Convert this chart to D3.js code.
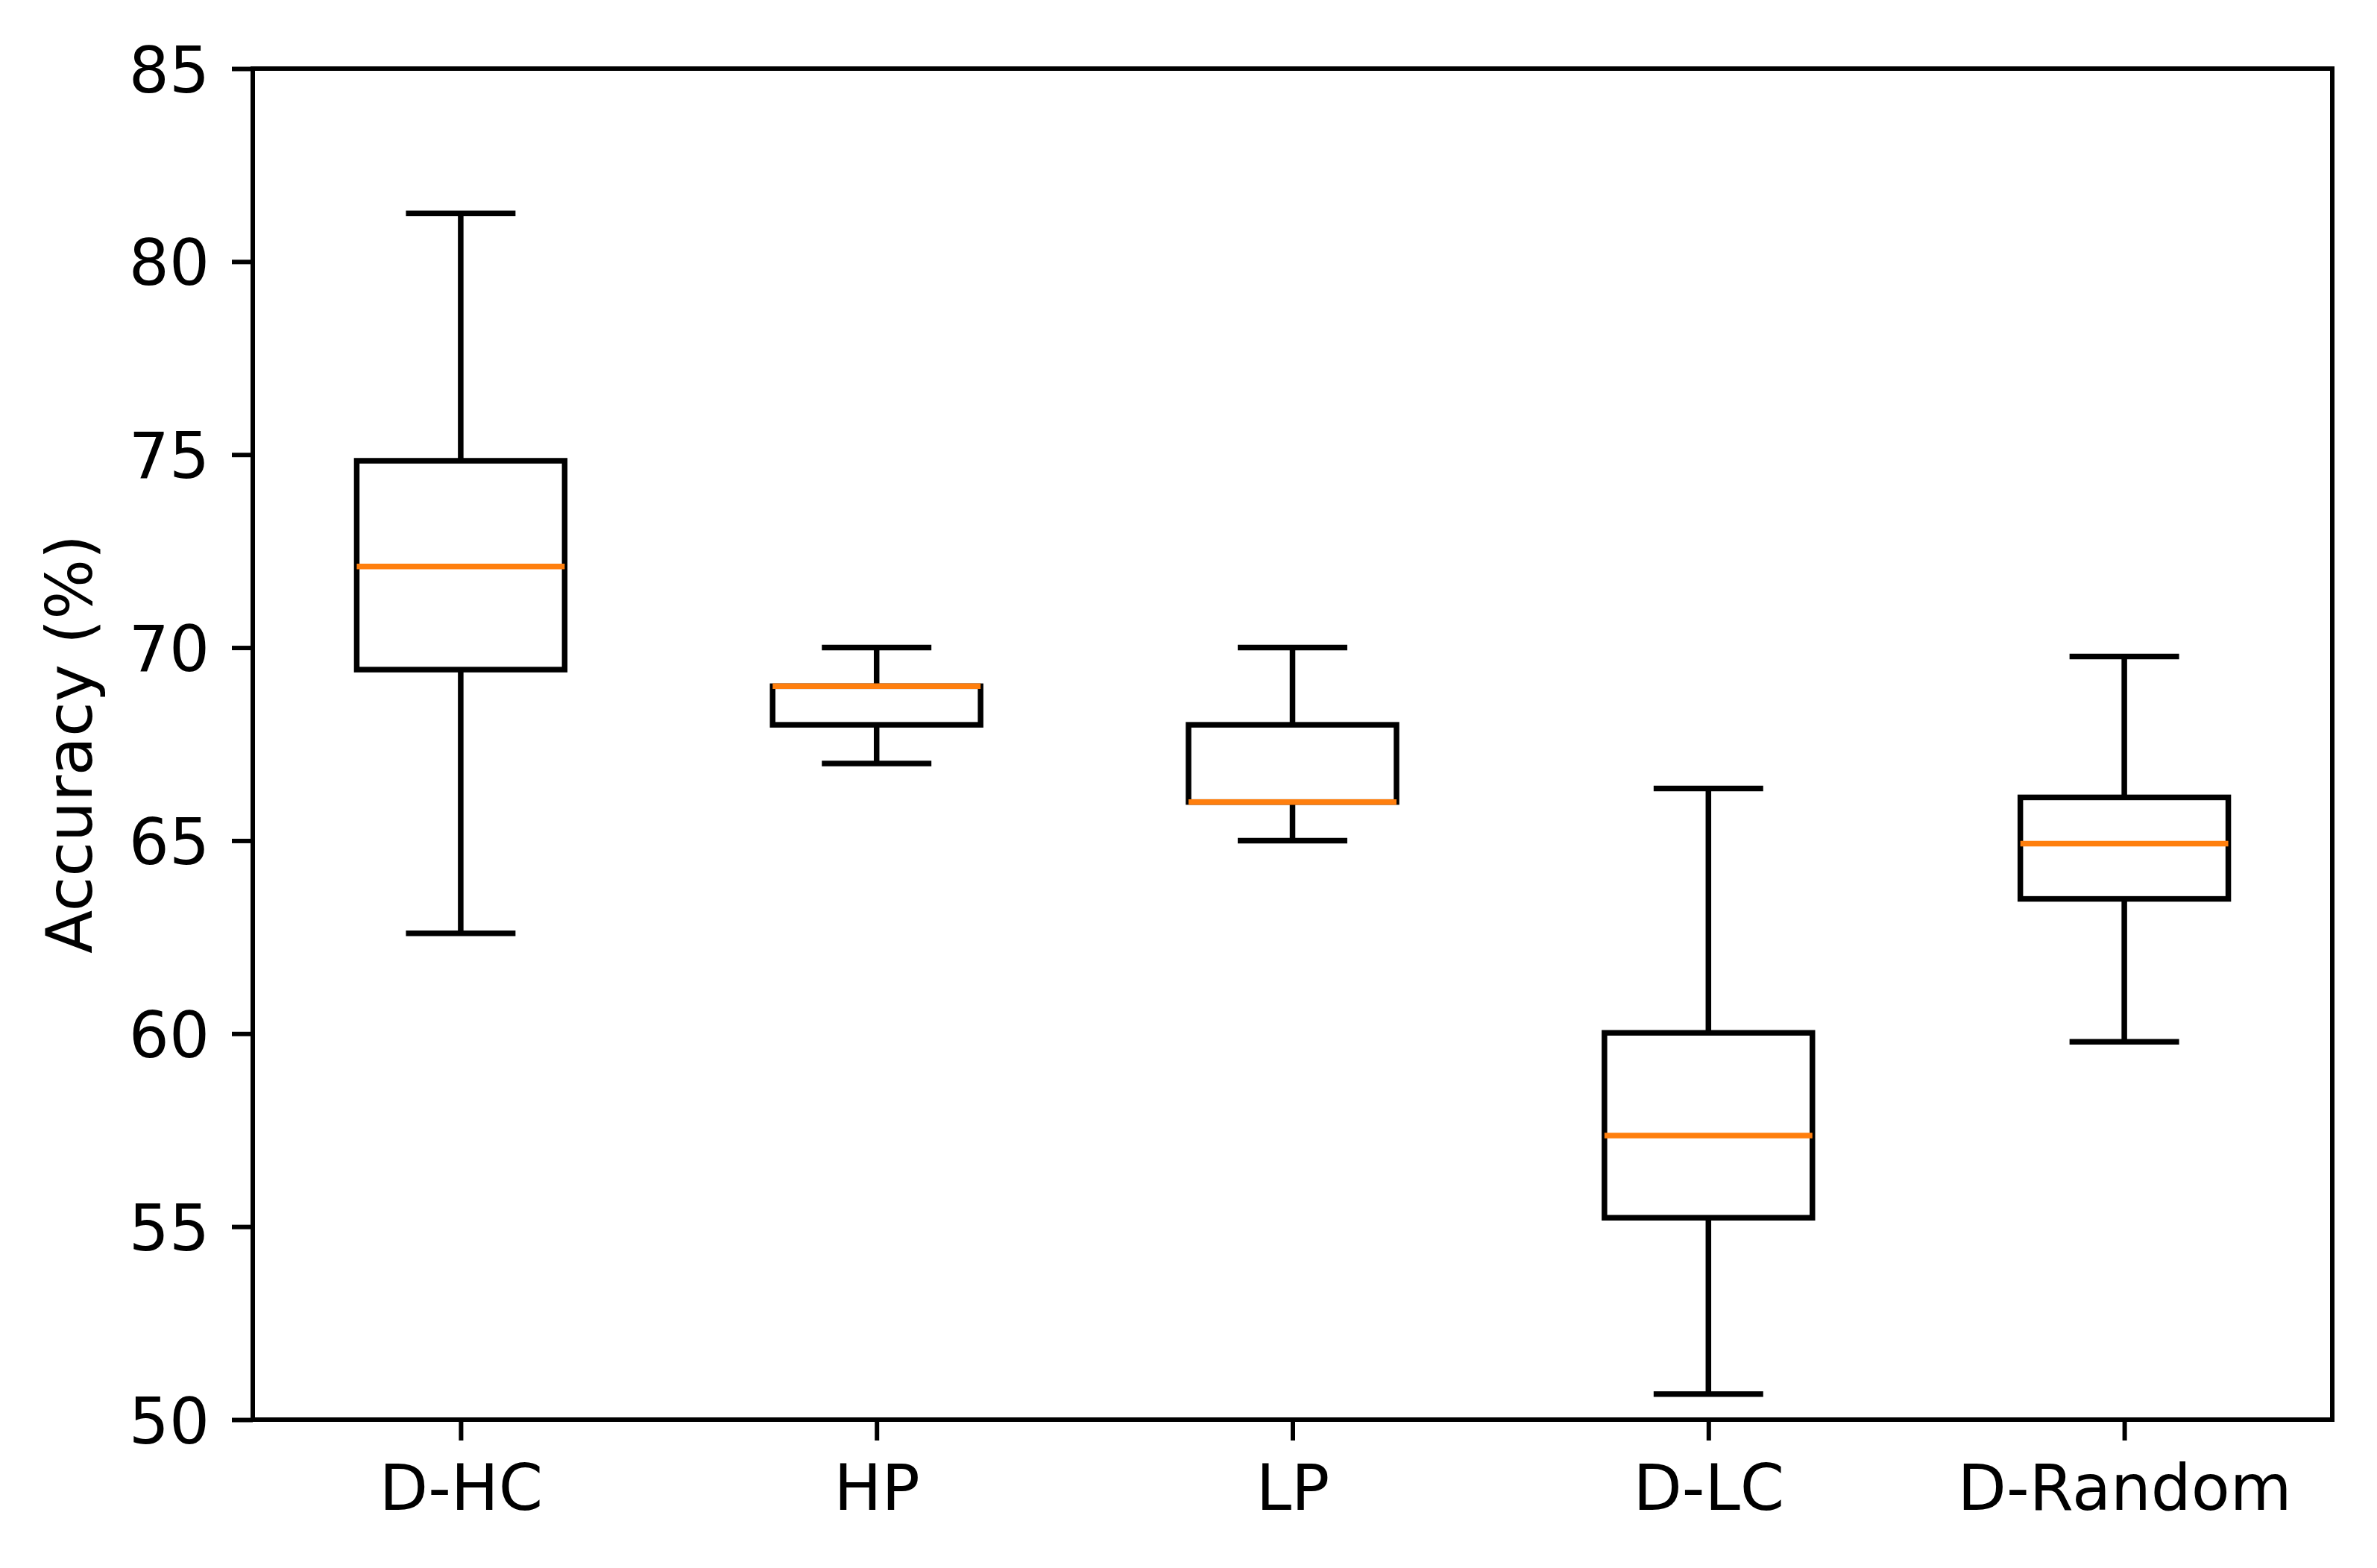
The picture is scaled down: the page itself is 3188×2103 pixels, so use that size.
<!DOCTYPE html>
<html>
<head>
<meta charset="utf-8">
<script src="https://cdn.jsdelivr.net/npm/d3@7"></script>
<style>
  html, body { margin: 0; padding: 0; background: #fff; }
  svg text { font-family: "DejaVu Sans", sans-serif; }
</style>
</head>
<body>
<div id="svg-div"></div>
<script>
// box plot values
var categories   = ["D-HC", "HP", "LP", "D-LC", "D-Random"];
var whiskerLow   = [62.6, 67.0, 65.0, 50.66, 59.79];
var q1           = [69.43, 68.0, 66.0, 55.23, 63.49];
var medians      = [72.1, 69.0, 66.0, 57.36, 64.92];
var q3           = [74.84, 69.0, 68.0, 60.02, 66.12];
var whiskerHigh  = [81.25, 70.0, 70.0, 66.35, 69.77];
var yTicks       = [50, 55, 60, 65, 70, 75, 80, 85];
var yLabel       = "Accuracy (%)";

var width = 3188, height = 2103;
var margin = {top: 92, right: 60, bottom: 199, left: 339};
var plotW = width - margin.left - margin.right,
    plotH = height - margin.top - margin.bottom;

var fontSize = 85;
var tickLen = 28;
var spineW = 6;
var boxLineW = 7.5;

var svg = d3.select("#svg-div")
  .append("svg")
  .attr("width", width)
  .attr("height", height)
  .style("display", "block")

svg.append("rect")
  .attr("width", width)
  .attr("height", height)
  .attr("fill", "#fff")

var g = svg.append("g")
  .attr("transform", "translate(" + margin.left + "," + margin.top + ")");

var data = categories.map(function(c, i){
    return {name: c, pos: i + 1, lo: whiskerLow[i], q1: q1[i], med: medians[i], q3: q3[i], hi: whiskerHigh[i]};
});

var x = d3.scaleLinear().domain([0.5, categories.length + 0.5]).range([0, plotW]);
var y = d3.scaleLinear().domain([50, 85]).range([plotH, 0]);

var boxW = x(1.25) - x(0.75);
var capW = boxW / 2;

// whiskers
var boxes = g.selectAll(".box")
  .data(data)
  .enter()
  .append("g")
  .attr("class", "box");

boxes.append("line")
  .attr("x1", function(d){ return x(d.pos); })
  .attr("x2", function(d){ return x(d.pos); })
  .attr("y1", function(d){ return y(d.q3); })
  .attr("y2", function(d){ return y(d.hi); })
  .attr("stroke", "#000")
  .attr("stroke-width", boxLineW);

boxes.append("line")
  .attr("x1", function(d){ return x(d.pos); })
  .attr("x2", function(d){ return x(d.pos); })
  .attr("y1", function(d){ return y(d.q1); })
  .attr("y2", function(d){ return y(d.lo); })
  .attr("stroke", "#000")
  .attr("stroke-width", boxLineW);

// caps
["hi", "lo"].forEach(function(k){
    boxes.append("line")
      .attr("x1", function(d){ return x(d.pos) - capW / 2; })
      .attr("x2", function(d){ return x(d.pos) + capW / 2; })
      .attr("y1", function(d){ return y(d[k]); })
      .attr("y2", function(d){ return y(d[k]); })
      .attr("stroke", "#000")
      .attr("stroke-width", boxLineW)
      .attr("stroke-linecap", "square");
});

// box
boxes.append("rect")
  .attr("x", function(d){ return x(d.pos) - boxW / 2; })
  .attr("y", function(d){ return y(d.q3); })
  .attr("width", boxW)
  .attr("height", function(d){ return y(d.q1) - y(d.q3); })
  .attr("fill", "none")
  .attr("stroke", "#000")
  .attr("stroke-width", boxLineW)
  .attr("stroke-linejoin", "miter");

// median
boxes.append("line")
  .attr("x1", function(d){ return x(d.pos) - boxW / 2; })
  .attr("x2", function(d){ return x(d.pos) + boxW / 2; })
  .attr("y1", function(d){ return y(d.med); })
  .attr("y2", function(d){ return y(d.med); })
  .attr("stroke", "#ff7f0e")
  .attr("stroke-width", boxLineW);

// axes
var xAxis = d3.axisBottom(x)
  .tickValues(data.map(function(d){ return d.pos; }))
  .tickFormat(function(d){ return categories[d - 1]; })
  .tickSize(tickLen)
  .tickPadding(33);

var yAxis = d3.axisLeft(y)
  .tickValues(yTicks)
  .tickSize(tickLen)
  .tickPadding(30);

var gx = g.append("g")
  .attr("transform", "translate(0," + plotH + ")")
  .call(xAxis);

var gy = g.append("g").call(yAxis);

[gx, gy].forEach(function(ax){
    ax.select(".domain").remove();
    ax.selectAll(".tick line").attr("stroke", "#000").attr("stroke-width", spineW);
    ax.selectAll(".tick text")
      .attr("fill", "#000")
      .style("font-size", fontSize + "px")
      .style("font-family", "'DejaVu Sans', sans-serif");
});
gy.selectAll(".tick text").attr("dy", "0.365em");

// frame
g.append("rect")
  .attr("x", 0)
  .attr("y", 0)
  .attr("width", plotW)
  .attr("height", plotH)
  .attr("fill", "none")
  .attr("stroke", "#000")
  .attr("stroke-width", spineW)
  .attr("stroke-linejoin", "miter");

// y label
svg.append("text")
  .attr("transform", "translate(123," + (margin.top + plotH / 2) + ") rotate(-90)")
  .attr("text-anchor", "middle")
  .style("font-size", fontSize + "px")
  .attr("fill", "#000")
  .text(yLabel);
</script>
</body>
</html>
